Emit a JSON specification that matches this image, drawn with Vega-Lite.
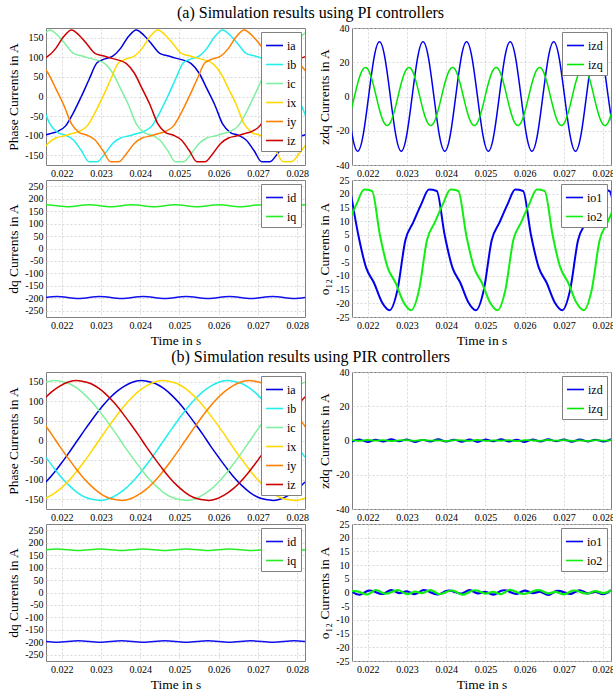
{
"$schema":"https://vega.github.io/schema/vega-lite/v6.json",
"background":"white",
"padding":{"left":6,"top":4,"right":0,"bottom":0},
"spacing":1,
"resolve":{"scale":{"color":"independent"},"legend":{"color":"independent"}},
"config":{
 "font":"Liberation Serif",
 "view":{"stroke":"#7f7f7f","strokeWidth":1},
 "axis":{"labelFont":"Liberation Serif","labelFontSize":10,"labelColor":"#000","titleFont":"Liberation Serif","titleFontSize":13.5,"titleFontWeight":"normal","titleColor":"#000","grid":true,"gridColor":"#cfcfcf","gridDash":[2,2],"gridWidth":0.8,"domain":false,"ticks":false,"labelPadding":3},
 "axisX":{"titlePadding":3},
 "axisY":{"titlePadding":4},
 "legend":{"orient":"top-right","offset":4,"fillColor":"white","strokeColor":"#808080","padding":4,"symbolType":"stroke","symbolSize":290,"symbolStrokeWidth":1.6,"labelFont":"Liberation Serif","labelFontSize":12,"labelColor":"#000","rowPadding":3,"labelOffset":3},
 "title":{"font":"Liberation Serif","fontSize":16,"fontWeight":"normal","color":"#000","anchor":"middle","offset":2}
},
"datasets":{
"a1":[
{"t":0.0215,"v":-101,"s":"ia"},{"t":0.0217,"v":-95,"s":"ia"},{"t":0.0219,"v":-89,"s":"ia"},{"t":0.0221,"v":-75,"s":"ia"},{"t":0.0223,"v":-41,"s":"ia"},{"t":0.0225,"v":0,"s":"ia"},{"t":0.0227,"v":44,"s":"ia"},{"t":0.0229,"v":86,"s":"ia"},{"t":0.0231,"v":96,"s":"ia"},{"t":0.0233,"v":103,"s":"ia"},{"t":0.0235,"v":123,"s":"ia"},{"t":0.0237,"v":153,"s":"ia"},{"t":0.0239,"v":170,"s":"ia"},{"t":0.0241,"v":156,"s":"ia"},{"t":0.0243,"v":133,"s":"ia"},{"t":0.0245,"v":110,"s":"ia"},{"t":0.0247,"v":104,"s":"ia"},{"t":0.0249,"v":98,"s":"ia"},{"t":0.0251,"v":93,"s":"ia"},{"t":0.0253,"v":84,"s":"ia"},{"t":0.0255,"v":60,"s":"ia"},{"t":0.0257,"v":20,"s":"ia"},{"t":0.0259,"v":-21,"s":"ia"},{"t":0.0261,"v":-70,"s":"ia"},{"t":0.0263,"v":-92,"s":"ia"},{"t":0.0265,"v":-99,"s":"ia"},{"t":0.0267,"v":-111,"s":"ia"},{"t":0.0269,"v":-138,"s":"ia"},{"t":0.0271,"v":-167,"s":"ia"},{"t":0.0273,"v":-167,"s":"ia"},{"t":0.0275,"v":-146,"s":"ia"},{"t":0.0277,"v":-120,"s":"ia"},{"t":0.0279,"v":-106,"s":"ia"},{"t":0.0281,"v":-101,"s":"ia"},{"t":0.0283,"v":-95,"s":"ia"},
{"t":0.0215,"v":-21,"s":"ib"},{"t":0.0217,"v":-70,"s":"ib"},{"t":0.0219,"v":-92,"s":"ib"},{"t":0.0221,"v":-99,"s":"ib"},{"t":0.0223,"v":-111,"s":"ib"},{"t":0.0225,"v":-138,"s":"ib"},{"t":0.0227,"v":-167,"s":"ib"},{"t":0.0229,"v":-167,"s":"ib"},{"t":0.0231,"v":-146,"s":"ib"},{"t":0.0233,"v":-120,"s":"ib"},{"t":0.0235,"v":-106,"s":"ib"},{"t":0.0237,"v":-101,"s":"ib"},{"t":0.0239,"v":-95,"s":"ib"},{"t":0.0241,"v":-89,"s":"ib"},{"t":0.0243,"v":-75,"s":"ib"},{"t":0.0245,"v":-41,"s":"ib"},{"t":0.0247,"v":0,"s":"ib"},{"t":0.0249,"v":44,"s":"ib"},{"t":0.0251,"v":86,"s":"ib"},{"t":0.0253,"v":96,"s":"ib"},{"t":0.0255,"v":103,"s":"ib"},{"t":0.0257,"v":123,"s":"ib"},{"t":0.0259,"v":153,"s":"ib"},{"t":0.0261,"v":170,"s":"ib"},{"t":0.0263,"v":156,"s":"ib"},{"t":0.0265,"v":133,"s":"ib"},{"t":0.0267,"v":110,"s":"ib"},{"t":0.0269,"v":104,"s":"ib"},{"t":0.0271,"v":98,"s":"ib"},{"t":0.0273,"v":93,"s":"ib"},{"t":0.0275,"v":84,"s":"ib"},{"t":0.0277,"v":60,"s":"ib"},{"t":0.0279,"v":20,"s":"ib"},{"t":0.0281,"v":-21,"s":"ib"},{"t":0.0283,"v":-70,"s":"ib"},
{"t":0.0215,"v":153,"s":"ic"},{"t":0.0217,"v":170,"s":"ic"},{"t":0.0219,"v":156,"s":"ic"},{"t":0.0221,"v":133,"s":"ic"},{"t":0.0223,"v":110,"s":"ic"},{"t":0.0225,"v":104,"s":"ic"},{"t":0.0227,"v":98,"s":"ic"},{"t":0.0229,"v":93,"s":"ic"},{"t":0.0231,"v":84,"s":"ic"},{"t":0.0233,"v":60,"s":"ic"},{"t":0.0235,"v":20,"s":"ic"},{"t":0.0237,"v":-21,"s":"ic"},{"t":0.0239,"v":-70,"s":"ic"},{"t":0.0241,"v":-92,"s":"ic"},{"t":0.0243,"v":-99,"s":"ic"},{"t":0.0245,"v":-111,"s":"ic"},{"t":0.0247,"v":-138,"s":"ic"},{"t":0.0249,"v":-167,"s":"ic"},{"t":0.0251,"v":-167,"s":"ic"},{"t":0.0253,"v":-146,"s":"ic"},{"t":0.0255,"v":-120,"s":"ic"},{"t":0.0257,"v":-106,"s":"ic"},{"t":0.0259,"v":-101,"s":"ic"},{"t":0.0261,"v":-95,"s":"ic"},{"t":0.0263,"v":-89,"s":"ic"},{"t":0.0265,"v":-75,"s":"ic"},{"t":0.0267,"v":-41,"s":"ic"},{"t":0.0269,"v":0,"s":"ic"},{"t":0.0271,"v":44,"s":"ic"},{"t":0.0273,"v":86,"s":"ic"},{"t":0.0275,"v":96,"s":"ic"},{"t":0.0277,"v":103,"s":"ic"},{"t":0.0279,"v":123,"s":"ic"},{"t":0.0281,"v":153,"s":"ic"},{"t":0.0283,"v":170,"s":"ic"},
{"t":0.02145,"v":-146,"s":"ix"},{"t":0.02165,"v":-120,"s":"ix"},{"t":0.02185,"v":-106,"s":"ix"},{"t":0.02205,"v":-101,"s":"ix"},{"t":0.02225,"v":-95,"s":"ix"},{"t":0.02245,"v":-89,"s":"ix"},{"t":0.02265,"v":-75,"s":"ix"},{"t":0.02285,"v":-41,"s":"ix"},{"t":0.02305,"v":0,"s":"ix"},{"t":0.02325,"v":44,"s":"ix"},{"t":0.02345,"v":86,"s":"ix"},{"t":0.02365,"v":96,"s":"ix"},{"t":0.02385,"v":103,"s":"ix"},{"t":0.02405,"v":123,"s":"ix"},{"t":0.02425,"v":153,"s":"ix"},{"t":0.02445,"v":170,"s":"ix"},{"t":0.02465,"v":156,"s":"ix"},{"t":0.02485,"v":133,"s":"ix"},{"t":0.02505,"v":110,"s":"ix"},{"t":0.02525,"v":104,"s":"ix"},{"t":0.02545,"v":98,"s":"ix"},{"t":0.02565,"v":93,"s":"ix"},{"t":0.02585,"v":84,"s":"ix"},{"t":0.02605,"v":60,"s":"ix"},{"t":0.02625,"v":20,"s":"ix"},{"t":0.02645,"v":-21,"s":"ix"},{"t":0.02665,"v":-70,"s":"ix"},{"t":0.02685,"v":-92,"s":"ix"},{"t":0.02705,"v":-99,"s":"ix"},{"t":0.02725,"v":-111,"s":"ix"},{"t":0.02745,"v":-138,"s":"ix"},{"t":0.02765,"v":-167,"s":"ix"},{"t":0.02785,"v":-167,"s":"ix"},{"t":0.02805,"v":-146,"s":"ix"},{"t":0.02825,"v":-120,"s":"ix"},
{"t":0.02145,"v":84,"s":"iy"},{"t":0.02165,"v":60,"s":"iy"},{"t":0.02185,"v":20,"s":"iy"},{"t":0.02205,"v":-21,"s":"iy"},{"t":0.02225,"v":-70,"s":"iy"},{"t":0.02245,"v":-92,"s":"iy"},{"t":0.02265,"v":-99,"s":"iy"},{"t":0.02285,"v":-111,"s":"iy"},{"t":0.02305,"v":-138,"s":"iy"},{"t":0.02325,"v":-167,"s":"iy"},{"t":0.02345,"v":-167,"s":"iy"},{"t":0.02365,"v":-146,"s":"iy"},{"t":0.02385,"v":-120,"s":"iy"},{"t":0.02405,"v":-106,"s":"iy"},{"t":0.02425,"v":-101,"s":"iy"},{"t":0.02445,"v":-95,"s":"iy"},{"t":0.02465,"v":-89,"s":"iy"},{"t":0.02485,"v":-75,"s":"iy"},{"t":0.02505,"v":-41,"s":"iy"},{"t":0.02525,"v":0,"s":"iy"},{"t":0.02545,"v":44,"s":"iy"},{"t":0.02565,"v":86,"s":"iy"},{"t":0.02585,"v":96,"s":"iy"},{"t":0.02605,"v":103,"s":"iy"},{"t":0.02625,"v":123,"s":"iy"},{"t":0.02645,"v":153,"s":"iy"},{"t":0.02665,"v":170,"s":"iy"},{"t":0.02685,"v":156,"s":"iy"},{"t":0.02705,"v":133,"s":"iy"},{"t":0.02725,"v":110,"s":"iy"},{"t":0.02745,"v":104,"s":"iy"},{"t":0.02765,"v":98,"s":"iy"},{"t":0.02785,"v":93,"s":"iy"},{"t":0.02805,"v":84,"s":"iy"},{"t":0.02825,"v":60,"s":"iy"},
{"t":0.02145,"v":96,"s":"iz"},{"t":0.02165,"v":103,"s":"iz"},{"t":0.02185,"v":123,"s":"iz"},{"t":0.02205,"v":153,"s":"iz"},{"t":0.02225,"v":170,"s":"iz"},{"t":0.02245,"v":156,"s":"iz"},{"t":0.02265,"v":133,"s":"iz"},{"t":0.02285,"v":110,"s":"iz"},{"t":0.02305,"v":104,"s":"iz"},{"t":0.02325,"v":98,"s":"iz"},{"t":0.02345,"v":93,"s":"iz"},{"t":0.02365,"v":84,"s":"iz"},{"t":0.02385,"v":60,"s":"iz"},{"t":0.02405,"v":20,"s":"iz"},{"t":0.02425,"v":-21,"s":"iz"},{"t":0.02445,"v":-70,"s":"iz"},{"t":0.02465,"v":-92,"s":"iz"},{"t":0.02485,"v":-99,"s":"iz"},{"t":0.02505,"v":-111,"s":"iz"},{"t":0.02525,"v":-138,"s":"iz"},{"t":0.02545,"v":-167,"s":"iz"},{"t":0.02565,"v":-167,"s":"iz"},{"t":0.02585,"v":-146,"s":"iz"},{"t":0.02605,"v":-120,"s":"iz"},{"t":0.02625,"v":-106,"s":"iz"},{"t":0.02645,"v":-101,"s":"iz"},{"t":0.02665,"v":-95,"s":"iz"},{"t":0.02685,"v":-89,"s":"iz"},{"t":0.02705,"v":-75,"s":"iz"},{"t":0.02725,"v":-41,"s":"iz"},{"t":0.02745,"v":0,"s":"iz"},{"t":0.02765,"v":44,"s":"iz"},{"t":0.02785,"v":86,"s":"iz"},{"t":0.02805,"v":96,"s":"iz"},{"t":0.02825,"v":103,"s":"iz"}
],
"a2":[
{"t":0.0214675,"v":0,"s":"izd"},{"t":0.0216063,"v":-22.6,"s":"izd"},{"t":0.021745,"v":-32,"s":"izd"},{"t":0.0218838,"v":-22.6,"s":"izd"},{"t":0.0220225,"v":0,"s":"izd"},{"t":0.0221613,"v":22.6,"s":"izd"},{"t":0.0223,"v":32,"s":"izd"},{"t":0.0224388,"v":22.6,"s":"izd"},{"t":0.0225775,"v":0,"s":"izd"},{"t":0.0227163,"v":-22.6,"s":"izd"},{"t":0.022855,"v":-32,"s":"izd"},{"t":0.0229938,"v":-22.6,"s":"izd"},{"t":0.0231325,"v":0,"s":"izd"},{"t":0.0232713,"v":22.6,"s":"izd"},{"t":0.02341,"v":32,"s":"izd"},{"t":0.0235488,"v":22.6,"s":"izd"},{"t":0.0236875,"v":0,"s":"izd"},{"t":0.0238263,"v":-22.6,"s":"izd"},{"t":0.023965,"v":-32,"s":"izd"},{"t":0.0241038,"v":-22.6,"s":"izd"},{"t":0.0242425,"v":0,"s":"izd"},{"t":0.0243813,"v":22.6,"s":"izd"},{"t":0.02452,"v":32,"s":"izd"},{"t":0.0246588,"v":22.6,"s":"izd"},{"t":0.0247975,"v":0,"s":"izd"},{"t":0.0249363,"v":-22.6,"s":"izd"},{"t":0.025075,"v":-32,"s":"izd"},{"t":0.0252138,"v":-22.6,"s":"izd"},{"t":0.0253525,"v":0,"s":"izd"},{"t":0.0254913,"v":22.6,"s":"izd"},{"t":0.02563,"v":32,"s":"izd"},{"t":0.0257688,"v":22.6,"s":"izd"},{"t":0.0259075,"v":0,"s":"izd"},{"t":0.0260463,"v":-22.6,"s":"izd"},{"t":0.026185,"v":-32,"s":"izd"},{"t":0.0263238,"v":-22.6,"s":"izd"},{"t":0.0264625,"v":0,"s":"izd"},{"t":0.0266013,"v":22.6,"s":"izd"},{"t":0.02674,"v":32,"s":"izd"},{"t":0.0268788,"v":22.6,"s":"izd"},{"t":0.0270175,"v":0,"s":"izd"},{"t":0.0271563,"v":-22.6,"s":"izd"},{"t":0.027295,"v":-32,"s":"izd"},{"t":0.0274338,"v":-22.6,"s":"izd"},{"t":0.0275725,"v":0,"s":"izd"},{"t":0.0277113,"v":22.6,"s":"izd"},{"t":0.02785,"v":32,"s":"izd"},{"t":0.0279888,"v":22.6,"s":"izd"},{"t":0.0281275,"v":0,"s":"izd"},{"t":0.0282663,"v":-22.6,"s":"izd"},
{"t":0.0214675,"v":-15.2,"s":"izq"},{"t":0.0216063,"v":-5.3,"s":"izq"},{"t":0.021745,"v":7.7,"s":"izq"},{"t":0.0218838,"v":16.1,"s":"izq"},{"t":0.0220225,"v":15.2,"s":"izq"},{"t":0.0221613,"v":5.3,"s":"izq"},{"t":0.0223,"v":-7.7,"s":"izq"},{"t":0.0224388,"v":-16.1,"s":"izq"},{"t":0.0225775,"v":-15.2,"s":"izq"},{"t":0.0227163,"v":-5.3,"s":"izq"},{"t":0.022855,"v":7.7,"s":"izq"},{"t":0.0229938,"v":16.1,"s":"izq"},{"t":0.0231325,"v":15.2,"s":"izq"},{"t":0.0232713,"v":5.3,"s":"izq"},{"t":0.02341,"v":-7.7,"s":"izq"},{"t":0.0235488,"v":-16.1,"s":"izq"},{"t":0.0236875,"v":-15.2,"s":"izq"},{"t":0.0238263,"v":-5.3,"s":"izq"},{"t":0.023965,"v":7.7,"s":"izq"},{"t":0.0241038,"v":16.1,"s":"izq"},{"t":0.0242425,"v":15.2,"s":"izq"},{"t":0.0243813,"v":5.3,"s":"izq"},{"t":0.02452,"v":-7.7,"s":"izq"},{"t":0.0246588,"v":-16.1,"s":"izq"},{"t":0.0247975,"v":-15.2,"s":"izq"},{"t":0.0249363,"v":-5.3,"s":"izq"},{"t":0.025075,"v":7.7,"s":"izq"},{"t":0.0252138,"v":16.1,"s":"izq"},{"t":0.0253525,"v":15.2,"s":"izq"},{"t":0.0254913,"v":5.3,"s":"izq"},{"t":0.02563,"v":-7.7,"s":"izq"},{"t":0.0257688,"v":-16.1,"s":"izq"},{"t":0.0259075,"v":-15.2,"s":"izq"},{"t":0.0260463,"v":-5.3,"s":"izq"},{"t":0.026185,"v":7.7,"s":"izq"},{"t":0.0263238,"v":16.1,"s":"izq"},{"t":0.0264625,"v":15.2,"s":"izq"},{"t":0.0266013,"v":5.3,"s":"izq"},{"t":0.02674,"v":-7.7,"s":"izq"},{"t":0.0268788,"v":-16.1,"s":"izq"},{"t":0.0270175,"v":-15.2,"s":"izq"},{"t":0.0271563,"v":-5.3,"s":"izq"},{"t":0.027295,"v":7.7,"s":"izq"},{"t":0.0274338,"v":16.1,"s":"izq"},{"t":0.0275725,"v":15.2,"s":"izq"},{"t":0.0277113,"v":5.3,"s":"izq"},{"t":0.02785,"v":-7.7,"s":"izq"},{"t":0.0279888,"v":-16.1,"s":"izq"},{"t":0.0281275,"v":-15.2,"s":"izq"},{"t":0.0282663,"v":-5.3,"s":"izq"}
],
"a3":[
{"t":0.0216,"v":-197,"s":"id"},{"t":0.021875,"v":-193,"s":"id"},{"t":0.02215,"v":-197,"s":"id"},{"t":0.022425,"v":-201,"s":"id"},{"t":0.0227,"v":-197,"s":"id"},{"t":0.022975,"v":-193,"s":"id"},{"t":0.02325,"v":-197,"s":"id"},{"t":0.023525,"v":-201,"s":"id"},{"t":0.0238,"v":-197,"s":"id"},{"t":0.024075,"v":-193,"s":"id"},{"t":0.02435,"v":-197,"s":"id"},{"t":0.024625,"v":-201,"s":"id"},{"t":0.0249,"v":-197,"s":"id"},{"t":0.025175,"v":-193,"s":"id"},{"t":0.02545,"v":-197,"s":"id"},{"t":0.025725,"v":-201,"s":"id"},{"t":0.026,"v":-197,"s":"id"},{"t":0.026275,"v":-193,"s":"id"},{"t":0.02655,"v":-197,"s":"id"},{"t":0.026825,"v":-201,"s":"id"},{"t":0.0271,"v":-197,"s":"id"},{"t":0.027375,"v":-193,"s":"id"},{"t":0.02765,"v":-197,"s":"id"},{"t":0.027925,"v":-201,"s":"id"},{"t":0.0282,"v":-197,"s":"id"},
{"t":0.0216,"v":176,"s":"iq"},{"t":0.021875,"v":172,"s":"iq"},{"t":0.02215,"v":168,"s":"iq"},{"t":0.022425,"v":172,"s":"iq"},{"t":0.0227,"v":176,"s":"iq"},{"t":0.022975,"v":172,"s":"iq"},{"t":0.02325,"v":168,"s":"iq"},{"t":0.023525,"v":172,"s":"iq"},{"t":0.0238,"v":176,"s":"iq"},{"t":0.024075,"v":172,"s":"iq"},{"t":0.02435,"v":168,"s":"iq"},{"t":0.024625,"v":172,"s":"iq"},{"t":0.0249,"v":176,"s":"iq"},{"t":0.025175,"v":172,"s":"iq"},{"t":0.02545,"v":168,"s":"iq"},{"t":0.025725,"v":172,"s":"iq"},{"t":0.026,"v":176,"s":"iq"},{"t":0.026275,"v":172,"s":"iq"},{"t":0.02655,"v":168,"s":"iq"},{"t":0.026825,"v":172,"s":"iq"},{"t":0.0271,"v":176,"s":"iq"},{"t":0.027375,"v":172,"s":"iq"},{"t":0.02765,"v":168,"s":"iq"},{"t":0.027925,"v":172,"s":"iq"},{"t":0.0282,"v":176,"s":"iq"}
],
"a4":[
{"t":0.02156,"v":21,"s":"io1"},{"t":0.02176,"v":5,"s":"io1"},{"t":0.02196,"v":-7,"s":"io1"},{"t":0.02216,"v":-12.5,"s":"io1"},{"t":0.02236,"v":-19.5,"s":"io1"},{"t":0.02256,"v":-22.5,"s":"io1"},{"t":0.02276,"v":-15,"s":"io1"},{"t":0.02296,"v":3,"s":"io1"},{"t":0.02316,"v":9.5,"s":"io1"},{"t":0.02336,"v":16,"s":"io1"},{"t":0.02356,"v":21.5,"s":"io1"},{"t":0.02376,"v":21,"s":"io1"},{"t":0.02396,"v":5,"s":"io1"},{"t":0.02416,"v":-7,"s":"io1"},{"t":0.02436,"v":-12.5,"s":"io1"},{"t":0.02456,"v":-19.5,"s":"io1"},{"t":0.02476,"v":-22.5,"s":"io1"},{"t":0.02496,"v":-15,"s":"io1"},{"t":0.02516,"v":3,"s":"io1"},{"t":0.02536,"v":9.5,"s":"io1"},{"t":0.02556,"v":16,"s":"io1"},{"t":0.02576,"v":21.5,"s":"io1"},{"t":0.02596,"v":21,"s":"io1"},{"t":0.02616,"v":5,"s":"io1"},{"t":0.02636,"v":-7,"s":"io1"},{"t":0.02656,"v":-12.5,"s":"io1"},{"t":0.02676,"v":-19.5,"s":"io1"},{"t":0.02696,"v":-22.5,"s":"io1"},{"t":0.02716,"v":-15,"s":"io1"},{"t":0.02736,"v":3,"s":"io1"},{"t":0.02756,"v":9.5,"s":"io1"},{"t":0.02776,"v":16,"s":"io1"},{"t":0.02796,"v":21.5,"s":"io1"},{"t":0.02816,"v":21,"s":"io1"},{"t":0.02836,"v":5,"s":"io1"},
{"t":0.02151,"v":9.5,"s":"io2"},{"t":0.02171,"v":16,"s":"io2"},{"t":0.02191,"v":21.5,"s":"io2"},{"t":0.02211,"v":21,"s":"io2"},{"t":0.02231,"v":5,"s":"io2"},{"t":0.02251,"v":-7,"s":"io2"},{"t":0.02271,"v":-12.5,"s":"io2"},{"t":0.02291,"v":-19.5,"s":"io2"},{"t":0.02311,"v":-22.5,"s":"io2"},{"t":0.02331,"v":-15,"s":"io2"},{"t":0.02351,"v":3,"s":"io2"},{"t":0.02371,"v":9.5,"s":"io2"},{"t":0.02391,"v":16,"s":"io2"},{"t":0.02411,"v":21.5,"s":"io2"},{"t":0.02431,"v":21,"s":"io2"},{"t":0.02451,"v":5,"s":"io2"},{"t":0.02471,"v":-7,"s":"io2"},{"t":0.02491,"v":-12.5,"s":"io2"},{"t":0.02511,"v":-19.5,"s":"io2"},{"t":0.02531,"v":-22.5,"s":"io2"},{"t":0.02551,"v":-15,"s":"io2"},{"t":0.02571,"v":3,"s":"io2"},{"t":0.02591,"v":9.5,"s":"io2"},{"t":0.02611,"v":16,"s":"io2"},{"t":0.02631,"v":21.5,"s":"io2"},{"t":0.02651,"v":21,"s":"io2"},{"t":0.02671,"v":5,"s":"io2"},{"t":0.02691,"v":-7,"s":"io2"},{"t":0.02711,"v":-12.5,"s":"io2"},{"t":0.02731,"v":-19.5,"s":"io2"},{"t":0.02751,"v":-22.5,"s":"io2"},{"t":0.02771,"v":-15,"s":"io2"},{"t":0.02791,"v":3,"s":"io2"},{"t":0.02811,"v":9.5,"s":"io2"},{"t":0.02831,"v":16,"s":"io2"}
],
"b1":[
{"t":0.0216,"v":-106,"s":"ia"},{"t":0.0218,"v":-83,"s":"ia"},{"t":0.022,"v":-57,"s":"ia"},{"t":0.0222,"v":-29,"s":"ia"},{"t":0.0224,"v":0,"s":"ia"},{"t":0.0226,"v":29,"s":"ia"},{"t":0.0228,"v":57,"s":"ia"},{"t":0.023,"v":83,"s":"ia"},{"t":0.0232,"v":106,"s":"ia"},{"t":0.0234,"v":125,"s":"ia"},{"t":0.0236,"v":139,"s":"ia"},{"t":0.0238,"v":149,"s":"ia"},{"t":0.024,"v":153,"s":"ia"},{"t":0.0242,"v":151,"s":"ia"},{"t":0.0244,"v":145,"s":"ia"},{"t":0.0246,"v":133,"s":"ia"},{"t":0.0248,"v":116,"s":"ia"},{"t":0.025,"v":95,"s":"ia"},{"t":0.0252,"v":70,"s":"ia"},{"t":0.0254,"v":43,"s":"ia"},{"t":0.0256,"v":15,"s":"ia"},{"t":0.0258,"v":-15,"s":"ia"},{"t":0.026,"v":-43,"s":"ia"},{"t":0.0262,"v":-70,"s":"ia"},{"t":0.0264,"v":-95,"s":"ia"},{"t":0.0266,"v":-116,"s":"ia"},{"t":0.0268,"v":-133,"s":"ia"},{"t":0.027,"v":-145,"s":"ia"},{"t":0.0272,"v":-151,"s":"ia"},{"t":0.0274,"v":-153,"s":"ia"},{"t":0.0276,"v":-149,"s":"ia"},{"t":0.0278,"v":-139,"s":"ia"},{"t":0.028,"v":-125,"s":"ia"},{"t":0.0282,"v":-106,"s":"ia"},
{"t":0.0216,"v":-43,"s":"ib"},{"t":0.0218,"v":-70,"s":"ib"},{"t":0.022,"v":-95,"s":"ib"},{"t":0.0222,"v":-116,"s":"ib"},{"t":0.0224,"v":-133,"s":"ib"},{"t":0.0226,"v":-145,"s":"ib"},{"t":0.0228,"v":-151,"s":"ib"},{"t":0.023,"v":-153,"s":"ib"},{"t":0.0232,"v":-149,"s":"ib"},{"t":0.0234,"v":-139,"s":"ib"},{"t":0.0236,"v":-125,"s":"ib"},{"t":0.0238,"v":-106,"s":"ib"},{"t":0.024,"v":-83,"s":"ib"},{"t":0.0242,"v":-57,"s":"ib"},{"t":0.0244,"v":-29,"s":"ib"},{"t":0.0246,"v":0,"s":"ib"},{"t":0.0248,"v":29,"s":"ib"},{"t":0.025,"v":57,"s":"ib"},{"t":0.0252,"v":83,"s":"ib"},{"t":0.0254,"v":106,"s":"ib"},{"t":0.0256,"v":125,"s":"ib"},{"t":0.0258,"v":139,"s":"ib"},{"t":0.026,"v":149,"s":"ib"},{"t":0.0262,"v":153,"s":"ib"},{"t":0.0264,"v":151,"s":"ib"},{"t":0.0266,"v":145,"s":"ib"},{"t":0.0268,"v":133,"s":"ib"},{"t":0.027,"v":116,"s":"ib"},{"t":0.0272,"v":95,"s":"ib"},{"t":0.0274,"v":70,"s":"ib"},{"t":0.0276,"v":43,"s":"ib"},{"t":0.0278,"v":15,"s":"ib"},{"t":0.028,"v":-15,"s":"ib"},{"t":0.0282,"v":-43,"s":"ib"},
{"t":0.0216,"v":149,"s":"ic"},{"t":0.0218,"v":153,"s":"ic"},{"t":0.022,"v":151,"s":"ic"},{"t":0.0222,"v":145,"s":"ic"},{"t":0.0224,"v":133,"s":"ic"},{"t":0.0226,"v":116,"s":"ic"},{"t":0.0228,"v":95,"s":"ic"},{"t":0.023,"v":70,"s":"ic"},{"t":0.0232,"v":43,"s":"ic"},{"t":0.0234,"v":15,"s":"ic"},{"t":0.0236,"v":-15,"s":"ic"},{"t":0.0238,"v":-43,"s":"ic"},{"t":0.024,"v":-70,"s":"ic"},{"t":0.0242,"v":-95,"s":"ic"},{"t":0.0244,"v":-116,"s":"ic"},{"t":0.0246,"v":-133,"s":"ic"},{"t":0.0248,"v":-145,"s":"ic"},{"t":0.025,"v":-151,"s":"ic"},{"t":0.0252,"v":-153,"s":"ic"},{"t":0.0254,"v":-149,"s":"ic"},{"t":0.0256,"v":-139,"s":"ic"},{"t":0.0258,"v":-125,"s":"ic"},{"t":0.026,"v":-106,"s":"ic"},{"t":0.0262,"v":-83,"s":"ic"},{"t":0.0264,"v":-57,"s":"ic"},{"t":0.0266,"v":-29,"s":"ic"},{"t":0.0268,"v":0,"s":"ic"},{"t":0.027,"v":29,"s":"ic"},{"t":0.0272,"v":57,"s":"ic"},{"t":0.0274,"v":83,"s":"ic"},{"t":0.0276,"v":106,"s":"ic"},{"t":0.0278,"v":125,"s":"ic"},{"t":0.028,"v":139,"s":"ic"},{"t":0.0282,"v":149,"s":"ic"},
{"t":0.02155,"v":-149,"s":"ix"},{"t":0.02175,"v":-139,"s":"ix"},{"t":0.02195,"v":-125,"s":"ix"},{"t":0.02215,"v":-106,"s":"ix"},{"t":0.02235,"v":-83,"s":"ix"},{"t":0.02255,"v":-57,"s":"ix"},{"t":0.02275,"v":-29,"s":"ix"},{"t":0.02295,"v":0,"s":"ix"},{"t":0.02315,"v":29,"s":"ix"},{"t":0.02335,"v":57,"s":"ix"},{"t":0.02355,"v":83,"s":"ix"},{"t":0.02375,"v":106,"s":"ix"},{"t":0.02395,"v":125,"s":"ix"},{"t":0.02415,"v":139,"s":"ix"},{"t":0.02435,"v":149,"s":"ix"},{"t":0.02455,"v":153,"s":"ix"},{"t":0.02475,"v":151,"s":"ix"},{"t":0.02495,"v":145,"s":"ix"},{"t":0.02515,"v":133,"s":"ix"},{"t":0.02535,"v":116,"s":"ix"},{"t":0.02555,"v":95,"s":"ix"},{"t":0.02575,"v":70,"s":"ix"},{"t":0.02595,"v":43,"s":"ix"},{"t":0.02615,"v":15,"s":"ix"},{"t":0.02635,"v":-15,"s":"ix"},{"t":0.02655,"v":-43,"s":"ix"},{"t":0.02675,"v":-70,"s":"ix"},{"t":0.02695,"v":-95,"s":"ix"},{"t":0.02715,"v":-116,"s":"ix"},{"t":0.02735,"v":-133,"s":"ix"},{"t":0.02755,"v":-145,"s":"ix"},{"t":0.02775,"v":-151,"s":"ix"},{"t":0.02795,"v":-153,"s":"ix"},{"t":0.02815,"v":-149,"s":"ix"},{"t":0.02835,"v":-139,"s":"ix"},
{"t":0.02155,"v":43,"s":"iy"},{"t":0.02175,"v":15,"s":"iy"},{"t":0.02195,"v":-15,"s":"iy"},{"t":0.02215,"v":-43,"s":"iy"},{"t":0.02235,"v":-70,"s":"iy"},{"t":0.02255,"v":-95,"s":"iy"},{"t":0.02275,"v":-116,"s":"iy"},{"t":0.02295,"v":-133,"s":"iy"},{"t":0.02315,"v":-145,"s":"iy"},{"t":0.02335,"v":-151,"s":"iy"},{"t":0.02355,"v":-153,"s":"iy"},{"t":0.02375,"v":-149,"s":"iy"},{"t":0.02395,"v":-139,"s":"iy"},{"t":0.02415,"v":-125,"s":"iy"},{"t":0.02435,"v":-106,"s":"iy"},{"t":0.02455,"v":-83,"s":"iy"},{"t":0.02475,"v":-57,"s":"iy"},{"t":0.02495,"v":-29,"s":"iy"},{"t":0.02515,"v":0,"s":"iy"},{"t":0.02535,"v":29,"s":"iy"},{"t":0.02555,"v":57,"s":"iy"},{"t":0.02575,"v":83,"s":"iy"},{"t":0.02595,"v":106,"s":"iy"},{"t":0.02615,"v":125,"s":"iy"},{"t":0.02635,"v":139,"s":"iy"},{"t":0.02655,"v":149,"s":"iy"},{"t":0.02675,"v":153,"s":"iy"},{"t":0.02695,"v":151,"s":"iy"},{"t":0.02715,"v":145,"s":"iy"},{"t":0.02735,"v":133,"s":"iy"},{"t":0.02755,"v":116,"s":"iy"},{"t":0.02775,"v":95,"s":"iy"},{"t":0.02795,"v":70,"s":"iy"},{"t":0.02815,"v":43,"s":"iy"},{"t":0.02835,"v":15,"s":"iy"},
{"t":0.02155,"v":106,"s":"iz"},{"t":0.02175,"v":125,"s":"iz"},{"t":0.02195,"v":139,"s":"iz"},{"t":0.02215,"v":149,"s":"iz"},{"t":0.02235,"v":153,"s":"iz"},{"t":0.02255,"v":151,"s":"iz"},{"t":0.02275,"v":145,"s":"iz"},{"t":0.02295,"v":133,"s":"iz"},{"t":0.02315,"v":116,"s":"iz"},{"t":0.02335,"v":95,"s":"iz"},{"t":0.02355,"v":70,"s":"iz"},{"t":0.02375,"v":43,"s":"iz"},{"t":0.02395,"v":15,"s":"iz"},{"t":0.02415,"v":-15,"s":"iz"},{"t":0.02435,"v":-43,"s":"iz"},{"t":0.02455,"v":-70,"s":"iz"},{"t":0.02475,"v":-95,"s":"iz"},{"t":0.02495,"v":-116,"s":"iz"},{"t":0.02515,"v":-133,"s":"iz"},{"t":0.02535,"v":-145,"s":"iz"},{"t":0.02555,"v":-151,"s":"iz"},{"t":0.02575,"v":-153,"s":"iz"},{"t":0.02595,"v":-149,"s":"iz"},{"t":0.02615,"v":-139,"s":"iz"},{"t":0.02635,"v":-125,"s":"iz"},{"t":0.02655,"v":-106,"s":"iz"},{"t":0.02675,"v":-83,"s":"iz"},{"t":0.02695,"v":-57,"s":"iz"},{"t":0.02715,"v":-29,"s":"iz"},{"t":0.02735,"v":0,"s":"iz"},{"t":0.02755,"v":29,"s":"iz"},{"t":0.02775,"v":57,"s":"iz"},{"t":0.02795,"v":83,"s":"iz"},{"t":0.02815,"v":106,"s":"iz"},{"t":0.02835,"v":125,"s":"iz"}
],
"b2":[
{"t":0.0216,"v":-0.7,"s":"izd"},{"t":0.0218,"v":0.6,"s":"izd"},{"t":0.022,"v":-0.9,"s":"izd"},{"t":0.0222,"v":0.5,"s":"izd"},{"t":0.0224,"v":-0.6,"s":"izd"},{"t":0.0226,"v":0.8,"s":"izd"},{"t":0.0228,"v":-0.5,"s":"izd"},{"t":0.023,"v":0.7,"s":"izd"},{"t":0.0232,"v":-0.9,"s":"izd"},{"t":0.0234,"v":0.4,"s":"izd"},{"t":0.0236,"v":-0.6,"s":"izd"},{"t":0.0238,"v":0.8,"s":"izd"},{"t":0.024,"v":-0.7,"s":"izd"},{"t":0.0242,"v":0.5,"s":"izd"},{"t":0.0244,"v":-0.8,"s":"izd"},{"t":0.0246,"v":0.6,"s":"izd"},{"t":0.0248,"v":-0.9,"s":"izd"},{"t":0.025,"v":0.7,"s":"izd"},{"t":0.0252,"v":-0.5,"s":"izd"},{"t":0.0254,"v":0.8,"s":"izd"},{"t":0.0256,"v":-0.6,"s":"izd"},{"t":0.0258,"v":0.5,"s":"izd"},{"t":0.026,"v":-0.9,"s":"izd"},{"t":0.0262,"v":0.7,"s":"izd"},{"t":0.0264,"v":-0.6,"s":"izd"},{"t":0.0266,"v":0.8,"s":"izd"},{"t":0.0268,"v":-0.5,"s":"izd"},{"t":0.027,"v":0.6,"s":"izd"},{"t":0.0272,"v":-0.8,"s":"izd"},{"t":0.0274,"v":0.7,"s":"izd"},{"t":0.0276,"v":-0.6,"s":"izd"},{"t":0.0278,"v":0.5,"s":"izd"},{"t":0.028,"v":-0.7,"s":"izd"},{"t":0.0282,"v":0.8,"s":"izd"},
{"t":0.0216,"v":0.2,"s":"izq"},{"t":0.0218,"v":-0.2,"s":"izq"},{"t":0.022,"v":0.3,"s":"izq"},{"t":0.0222,"v":-0.1,"s":"izq"},{"t":0.0224,"v":0.2,"s":"izq"},{"t":0.0226,"v":-0.3,"s":"izq"},{"t":0.0228,"v":0.1,"s":"izq"},{"t":0.023,"v":0.2,"s":"izq"},{"t":0.0232,"v":-0.2,"s":"izq"},{"t":0.0234,"v":0.3,"s":"izq"},{"t":0.0236,"v":-0.1,"s":"izq"},{"t":0.0238,"v":0.1,"s":"izq"},{"t":0.024,"v":-0.3,"s":"izq"},{"t":0.0242,"v":0.2,"s":"izq"},{"t":0.0244,"v":0.1,"s":"izq"},{"t":0.0246,"v":-0.2,"s":"izq"},{"t":0.0248,"v":0.3,"s":"izq"},{"t":0.025,"v":-0.2,"s":"izq"},{"t":0.0252,"v":0.1,"s":"izq"},{"t":0.0254,"v":-0.1,"s":"izq"},{"t":0.0256,"v":0.2,"s":"izq"},{"t":0.0258,"v":-0.3,"s":"izq"},{"t":0.026,"v":0.2,"s":"izq"},{"t":0.0262,"v":0.1,"s":"izq"},{"t":0.0264,"v":-0.2,"s":"izq"},{"t":0.0266,"v":0.3,"s":"izq"},{"t":0.0268,"v":-0.1,"s":"izq"},{"t":0.027,"v":0.2,"s":"izq"},{"t":0.0272,"v":-0.2,"s":"izq"},{"t":0.0274,"v":0.1,"s":"izq"},{"t":0.0276,"v":-0.3,"s":"izq"},{"t":0.0278,"v":0.2,"s":"izq"},{"t":0.028,"v":-0.1,"s":"izq"},{"t":0.0282,"v":0.2,"s":"izq"}
],
"b3":[
{"t":0.0216,"v":-197,"s":"id"},{"t":0.021875,"v":-200,"s":"id"},{"t":0.02215,"v":-197,"s":"id"},{"t":0.022425,"v":-194,"s":"id"},{"t":0.0227,"v":-197,"s":"id"},{"t":0.022975,"v":-200,"s":"id"},{"t":0.02325,"v":-197,"s":"id"},{"t":0.023525,"v":-194,"s":"id"},{"t":0.0238,"v":-197,"s":"id"},{"t":0.024075,"v":-200,"s":"id"},{"t":0.02435,"v":-197,"s":"id"},{"t":0.024625,"v":-194,"s":"id"},{"t":0.0249,"v":-197,"s":"id"},{"t":0.025175,"v":-200,"s":"id"},{"t":0.02545,"v":-197,"s":"id"},{"t":0.025725,"v":-194,"s":"id"},{"t":0.026,"v":-197,"s":"id"},{"t":0.026275,"v":-200,"s":"id"},{"t":0.02655,"v":-197,"s":"id"},{"t":0.026825,"v":-194,"s":"id"},{"t":0.0271,"v":-197,"s":"id"},{"t":0.027375,"v":-200,"s":"id"},{"t":0.02765,"v":-197,"s":"id"},{"t":0.027925,"v":-194,"s":"id"},{"t":0.0282,"v":-197,"s":"id"},
{"t":0.0216,"v":172,"s":"iq"},{"t":0.021875,"v":175,"s":"iq"},{"t":0.02215,"v":172,"s":"iq"},{"t":0.022425,"v":169,"s":"iq"},{"t":0.0227,"v":172,"s":"iq"},{"t":0.022975,"v":175,"s":"iq"},{"t":0.02325,"v":172,"s":"iq"},{"t":0.023525,"v":169,"s":"iq"},{"t":0.0238,"v":172,"s":"iq"},{"t":0.024075,"v":175,"s":"iq"},{"t":0.02435,"v":172,"s":"iq"},{"t":0.024625,"v":169,"s":"iq"},{"t":0.0249,"v":172,"s":"iq"},{"t":0.025175,"v":175,"s":"iq"},{"t":0.02545,"v":172,"s":"iq"},{"t":0.025725,"v":169,"s":"iq"},{"t":0.026,"v":172,"s":"iq"},{"t":0.026275,"v":175,"s":"iq"},{"t":0.02655,"v":172,"s":"iq"},{"t":0.026825,"v":169,"s":"iq"},{"t":0.0271,"v":172,"s":"iq"},{"t":0.027375,"v":175,"s":"iq"},{"t":0.02765,"v":172,"s":"iq"},{"t":0.027925,"v":169,"s":"iq"},{"t":0.0282,"v":172,"s":"iq"}
],
"b4":[
{"t":0.0216,"v":0.3,"s":"io1"},{"t":0.0218,"v":-0.8,"s":"io1"},{"t":0.022,"v":0.6,"s":"io1"},{"t":0.0222,"v":0.2,"s":"io1"},{"t":0.0224,"v":-0.5,"s":"io1"},{"t":0.0226,"v":0.9,"s":"io1"},{"t":0.0228,"v":-0.2,"s":"io1"},{"t":0.023,"v":0.4,"s":"io1"},{"t":0.0232,"v":-0.6,"s":"io1"},{"t":0.0234,"v":0.8,"s":"io1"},{"t":0.0236,"v":0.1,"s":"io1"},{"t":0.0238,"v":-0.7,"s":"io1"},{"t":0.024,"v":0.5,"s":"io1"},{"t":0.0242,"v":0.3,"s":"io1"},{"t":0.0244,"v":-0.4,"s":"io1"},{"t":0.0246,"v":0.9,"s":"io1"},{"t":0.0248,"v":-0.3,"s":"io1"},{"t":0.025,"v":0.2,"s":"io1"},{"t":0.0252,"v":-0.8,"s":"io1"},{"t":0.0254,"v":0.6,"s":"io1"},{"t":0.0256,"v":0.4,"s":"io1"},{"t":0.0258,"v":-0.5,"s":"io1"},{"t":0.026,"v":0.7,"s":"io1"},{"t":0.0262,"v":-0.2,"s":"io1"},{"t":0.0264,"v":0.3,"s":"io1"},{"t":0.0266,"v":-0.9,"s":"io1"},{"t":0.0268,"v":0.5,"s":"io1"},{"t":0.027,"v":0.1,"s":"io1"},{"t":0.0272,"v":-0.4,"s":"io1"},{"t":0.0274,"v":0.8,"s":"io1"},{"t":0.0276,"v":-0.3,"s":"io1"},{"t":0.0278,"v":0.2,"s":"io1"},{"t":0.028,"v":-0.6,"s":"io1"},{"t":0.0282,"v":0.9,"s":"io1"},
{"t":0.0216,"v":0.5,"s":"io2"},{"t":0.0218,"v":0.2,"s":"io2"},{"t":0.022,"v":-0.7,"s":"io2"},{"t":0.0222,"v":0.9,"s":"io2"},{"t":0.0224,"v":-0.3,"s":"io2"},{"t":0.0226,"v":0.1,"s":"io2"},{"t":0.0228,"v":0.8,"s":"io2"},{"t":0.023,"v":-0.6,"s":"io2"},{"t":0.0232,"v":0.3,"s":"io2"},{"t":0.0234,"v":-0.2,"s":"io2"},{"t":0.0236,"v":0.9,"s":"io2"},{"t":0.0238,"v":-0.5,"s":"io2"},{"t":0.024,"v":0.2,"s":"io2"},{"t":0.0242,"v":0.6,"s":"io2"},{"t":0.0244,"v":-0.8,"s":"io2"},{"t":0.0246,"v":0.3,"s":"io2"},{"t":0.0248,"v":0.7,"s":"io2"},{"t":0.025,"v":-0.4,"s":"io2"},{"t":0.0252,"v":0.2,"s":"io2"},{"t":0.0254,"v":-0.6,"s":"io2"},{"t":0.0256,"v":0.9,"s":"io2"},{"t":0.0258,"v":0.1,"s":"io2"},{"t":0.026,"v":-0.5,"s":"io2"},{"t":0.0262,"v":0.4,"s":"io2"},{"t":0.0264,"v":0.8,"s":"io2"},{"t":0.0266,"v":-0.3,"s":"io2"},{"t":0.0268,"v":0.2,"s":"io2"},{"t":0.027,"v":-0.7,"s":"io2"},{"t":0.0272,"v":0.6,"s":"io2"},{"t":0.0274,"v":0.3,"s":"io2"},{"t":0.0276,"v":-0.4,"s":"io2"},{"t":0.0278,"v":0.5,"s":"io2"},{"t":0.028,"v":-0.2,"s":"io2"},{"t":0.0282,"v":0.7,"s":"io2"}
]
},
"vconcat":[
{"title":{"text":"(a) Simulation results using PI controllers"},
 "columns":2,"spacing":{"row":15,"column":47},"bounds":"flush",
 "resolve":{"scale":{"color":"independent","x":"independent","y":"independent"},"legend":{"color":"independent"}},
 "concat":[
  {"width":259,"height":137,"data":{"name":"a1"},
   "mark":{"type":"line","interpolate":"monotone","strokeWidth":1.5,"clip":true},
   "encoding":{
    "x":{"field":"t","type":"quantitative","scale":{"domain":[0.0216,0.0282],"nice":false,"zero":false},"axis":{"values":[0.022,0.023,0.024,0.025,0.026,0.027,0.028],"format":".3f","title":null}},
    "y":{"field":"v","type":"quantitative","scale":{"domain":[-175,175],"nice":false,"zero":false},"axis":{"values":[-150,-100,-50,0,50,100,150],"labelExpr":"''+datum.value","title":"Phase Currents in A"}},
    "color":{"field":"s","type":"nominal","scale":{"domain":["ia","ib","ic","ix","iy","iz"],"range":["#0000e0","#22eeee","#80f0a0","#ffd800","#ff8000","#cc0000"]},"legend":{"title":null}}}},
  {"width":259,"height":137,"data":{"name":"a2"},
   "mark":{"type":"line","interpolate":"natural","strokeWidth":1.5,"clip":true},
   "encoding":{
    "x":{"field":"t","type":"quantitative","scale":{"domain":[0.0216,0.0282],"nice":false,"zero":false},"axis":{"values":[0.022,0.023,0.024,0.025,0.026,0.027,0.028],"format":".3f","title":null}},
    "y":{"field":"v","type":"quantitative","scale":{"domain":[-40,40],"nice":false,"zero":false},"axis":{"values":[-40,-20,0,20,40],"labelExpr":"''+datum.value","title":"zdq Currents in A"}},
    "color":{"field":"s","type":"nominal","scale":{"domain":["izd","izq"],"range":["#0000ee","#00e600"]},"legend":{"title":null}}}},
  {"width":259,"height":137,"data":{"name":"a3"},
   "mark":{"type":"line","interpolate":"natural","strokeWidth":1.5,"clip":true},
   "encoding":{
    "x":{"field":"t","type":"quantitative","scale":{"domain":[0.0216,0.0282],"nice":false,"zero":false},"axis":{"values":[0.022,0.023,0.024,0.025,0.026,0.027,0.028],"format":".3f","title":"Time in s"}},
    "y":{"field":"v","type":"quantitative","scale":{"domain":[-275,275],"nice":false,"zero":false},"axis":{"values":[-250,-200,-150,-100,-50,0,50,100,150,200,250],"labelExpr":"''+datum.value","title":"dq Currents in A"}},
    "color":{"field":"s","type":"nominal","scale":{"domain":["id","iq"],"range":["#1010ee","#22ee22"]},"legend":{"title":null}}}},
  {"width":259,"height":137,"data":{"name":"a4"},
   "mark":{"type":"line","interpolate":"monotone","strokeWidth":2,"clip":true},
   "encoding":{
    "x":{"field":"t","type":"quantitative","scale":{"domain":[0.0216,0.0282],"nice":false,"zero":false},"axis":{"values":[0.022,0.023,0.024,0.025,0.026,0.027,0.028],"format":".3f","title":"Time in s"}},
    "y":{"field":"v","type":"quantitative","scale":{"domain":[-25,25],"nice":false,"zero":false},"axis":{"values":[-25,-20,-15,-10,-5,0,5,10,15,20,25],"labelExpr":"''+datum.value","title":"o₁₂ Currents in A"}},
    "color":{"field":"s","type":"nominal","scale":{"domain":["io1","io2"],"range":["#0000ee","#11ee11"]},"legend":{"title":null}}}}
 ]},
{"title":{"text":"(b) Simulation results using PIR controllers"},
 "columns":2,"spacing":{"row":15,"column":47},"bounds":"flush",
 "resolve":{"scale":{"color":"independent","x":"independent","y":"independent"},"legend":{"color":"independent"}},
 "concat":[
  {"width":259,"height":137,"data":{"name":"b1"},
   "mark":{"type":"line","interpolate":"monotone","strokeWidth":1.5,"clip":true},
   "encoding":{
    "x":{"field":"t","type":"quantitative","scale":{"domain":[0.0216,0.0282],"nice":false,"zero":false},"axis":{"values":[0.022,0.023,0.024,0.025,0.026,0.027,0.028],"format":".3f","title":null}},
    "y":{"field":"v","type":"quantitative","scale":{"domain":[-175,175],"nice":false,"zero":false},"axis":{"values":[-150,-100,-50,0,50,100,150],"labelExpr":"''+datum.value","title":"Phase Currents in A"}},
    "color":{"field":"s","type":"nominal","scale":{"domain":["ia","ib","ic","ix","iy","iz"],"range":["#0000e0","#22eeee","#80f0a0","#ffd800","#ff8000","#cc0000"]},"legend":{"title":null}}}},
  {"width":259,"height":137,"data":{"name":"b2"},
   "mark":{"type":"line","interpolate":"natural","strokeWidth":1.8,"clip":true},
   "encoding":{
    "x":{"field":"t","type":"quantitative","scale":{"domain":[0.0216,0.0282],"nice":false,"zero":false},"axis":{"values":[0.022,0.023,0.024,0.025,0.026,0.027,0.028],"format":".3f","title":null}},
    "y":{"field":"v","type":"quantitative","scale":{"domain":[-40,40],"nice":false,"zero":false},"axis":{"values":[-40,-20,0,20,40],"labelExpr":"''+datum.value","title":"zdq Currents in A"}},
    "color":{"field":"s","type":"nominal","scale":{"domain":["izd","izq"],"range":["#0000ee","#00e600"]},"legend":{"title":null}}}},
  {"width":259,"height":137,"data":{"name":"b3"},
   "mark":{"type":"line","interpolate":"natural","strokeWidth":1.5,"clip":true},
   "encoding":{
    "x":{"field":"t","type":"quantitative","scale":{"domain":[0.0216,0.0282],"nice":false,"zero":false},"axis":{"values":[0.022,0.023,0.024,0.025,0.026,0.027,0.028],"format":".3f","title":"Time in s"}},
    "y":{"field":"v","type":"quantitative","scale":{"domain":[-275,275],"nice":false,"zero":false},"axis":{"values":[-250,-200,-150,-100,-50,0,50,100,150,200,250],"labelExpr":"''+datum.value","title":"dq Currents in A"}},
    "color":{"field":"s","type":"nominal","scale":{"domain":["id","iq"],"range":["#1010ee","#22ee22"]},"legend":{"title":null}}}},
  {"width":259,"height":137,"data":{"name":"b4"},
   "mark":{"type":"line","interpolate":"natural","strokeWidth":2.2,"clip":true},
   "encoding":{
    "x":{"field":"t","type":"quantitative","scale":{"domain":[0.0216,0.0282],"nice":false,"zero":false},"axis":{"values":[0.022,0.023,0.024,0.025,0.026,0.027,0.028],"format":".3f","title":"Time in s"}},
    "y":{"field":"v","type":"quantitative","scale":{"domain":[-25,25],"nice":false,"zero":false},"axis":{"values":[-25,-20,-15,-10,-5,0,5,10,15,20,25],"labelExpr":"''+datum.value","title":"o₁₂ Currents in A"}},
    "color":{"field":"s","type":"nominal","scale":{"domain":["io1","io2"],"range":["#0000ee","#11ee11"]},"legend":{"title":null}}}}
 ]}
]
}
